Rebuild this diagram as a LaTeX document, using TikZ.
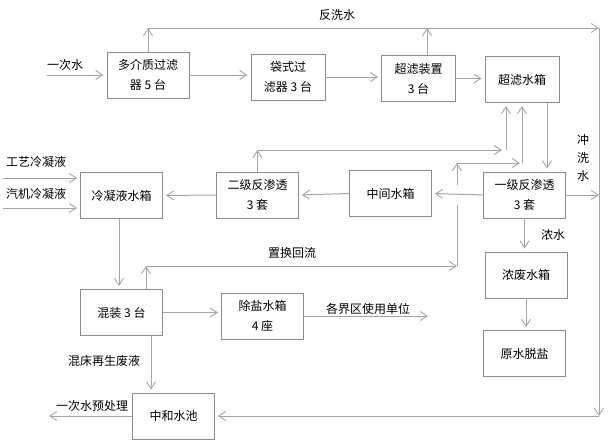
\documentclass[tikz,border=0pt]{standalone}
\usepackage{fontspec}
\newfontfamily\cjk{Noto Sans CJK SC}
\usepackage{tikz}
\usetikzlibrary{arrows.meta,positioning,calc}
\definecolor{linegray}{RGB}{165,165,165}
\definecolor{boxgray}{RGB}{140,140,140}
\tikzset{
  blk/.style={draw=boxgray, line width=0.9pt, fill=white, align=center,
              font=\cjk\fontsize{12}{20}\selectfont,
              minimum width=82pt, minimum height=46pt, inner sep=0pt},
  sblk/.style={blk, minimum width=74pt},
  lbl/.style={font=\cjk\fontsize{12}{18}\selectfont, inner sep=0pt},
  flow/.style={draw=linegray, line width=1pt,
               -{Straight Barb[length=7pt,width=9pt,line width=0.9pt]}},
  flowin/.style={flow, shorten >=3pt},
  wire/.style={draw=linegray, line width=1pt},
}
\begin{document}
\begin{tikzpicture}[x=1pt, y=-1pt]
  \useasboundingbox (0,0) rectangle (608,445);
  % boxes
  \node[blk]  (mmf)   at (148,75)      {多介质过滤\\器 5 台};
  \node[sblk] (bag)   at (288,77)      {袋式过\\滤器 3 台};
  \node[sblk] (uf)    at (418.5,78.5)  {超滤装置\\3 台};
  \node[sblk] (uft)   at (522,79.5)    {超滤水箱};
  \node[blk]  (ro1)   at (524.5,195)   {一级反渗透\\3 套};
  \node[blk]  (mid)   at (390.5,193.5) {中间水箱};
  \node[blk]  (ro2)   at (257.5,195)   {二级反渗透\\3 套};
  \node[blk]  (cond)  at (121.5,195.5) {冷凝液水箱};
  \node[blk]  (mix)   at (121.5,312.5) {混装 3 台};
  \node[blk]  (demin) at (262.5,316)   {除盐水箱\\4 座};
  \node[blk]  (conc)  at (526,275)     {浓废水箱};
  \node[blk]  (raw)   at (524.5,353.5) {原水脱盐};
  \node[blk]  (neut)  at (173.5,416)   {中和水池};
  % labels
  \node[lbl] (l1)  at (65,65)    {一次水};
  \node[lbl] (l2)  at (337,15)   {反洗水};
  \node[lbl, anchor=west] (l3) at (6,162) {工艺冷凝液};
  \node[lbl, anchor=west] (l4) at (6,194) {汽机冷凝液};
  \node[lbl, align=center] (l5) at (583,158) {冲\\洗\\水};
  \node[lbl] (l6)  at (553,235)  {浓水};
  \node[lbl] (l7)  at (292,253)  {置换回流};
  \node[lbl] (l8)  at (368,309)  {各界区使用单位};
  \node[lbl] (l9)  at (104,361)  {混床再生废液};
  \node[lbl] (l10) at (92,406)   {一次水预处理};
  % free ends and corners
  \coordinate (in1) at (47,75);
  \coordinate (c1)  at (3,178);
  \coordinate (c2)  at (3,208);
  \coordinate (tr)  at (599,28);
  \coordinate (br)  at (599,416);
  \coordinate (ka)  at (257.5,150);
  \coordinate (kb)  at (506,150);
  \coordinate (ra)  at (146,266);
  \coordinate (rb)  at (457,266);
  \coordinate (rc)  at (457,205);
  \coordinate (rd)  at (457,185);
  \coordinate (re)  at (457,163);
  \coordinate (rf)  at (522,163);
  \coordinate (out) at (428,316);
  \coordinate (pre) at (49,416);
  % main line
  \draw[flowin] (in1) -- (in1 -| mmf.west);
  \draw[flowin] (mmf.east) -- (mmf.east -| bag.west);
  \draw[flowin] (bag.east) -- (bag.east -| uf.west);
  \draw[flowin] (uf.east) -- (uf.east -| uft.west);
  % backwash
  \draw[flow] (mmf.north) -- (mmf.north |- tr);
  \draw[flow] (mmf.north |- tr) -- (tr);
  \draw[flow] ([xshift=8.5pt]uf.north) -- ([xshift=8.5pt]uf.north |- tr);
  \draw[flow] (tr) -- (br);
  \draw[flowin] (br) -- (neut.east);
  % RO part
  \draw[flowin] ([xshift=25pt]uft.south) -- ([xshift=25pt]uft.south |- ro1.north);
  \draw[flowin] (ro1.west) -- (mid.east);
  \draw[flowin] (mid.west) -- (ro2.east);
  \draw[flowin] (ro2.west) -- (cond.east);
  \draw[flow] (ro1.east) -- (ro1.east -| tr);
  \draw[flowin] (ro1.south) -- (ro1.south |- conc.north);
  \draw[flowin] (conc.south) -- (conc.south |- raw.north);
  \draw[flow] (ro2.north) -- (ka);
  \draw[flow] (ka) -- ([xshift=-4pt]kb);
  \draw[flowin] (kb) -- (kb |- uft.south);
  % displacement return
  \draw[flow] (mix.north -| ra) -- (ra);
  \draw[flow] (ra) -- (rb);
  \draw[wire] (rb) -- (rc);
  \draw[flow] (rd) -- (re);
  \draw[flow] (re) -- ([xshift=-2pt]rf);
  \draw[flowin] (rf) -- (rf |- uft.south);
  % condensate and polishing
  \draw[flowin] (c1) -- (c1 -| cond.west);
  \draw[flowin] (c2) -- (c2 -| cond.west);
  \draw[flowin] ([xshift=-2.5pt]cond.south) -- ([xshift=-2.5pt]cond.south |- mix.north);
  \draw[flowin] (mix.east) -- (mix.east -| demin.west);
  \draw[flow] (demin.east) -- (out);
  \draw[flowin] ([xshift=29.5pt]mix.south) -- ([xshift=29.5pt]mix.south |- neut.north);
  \draw[flow] (neut.west) -- (pre);
\end{tikzpicture}
\end{document}
